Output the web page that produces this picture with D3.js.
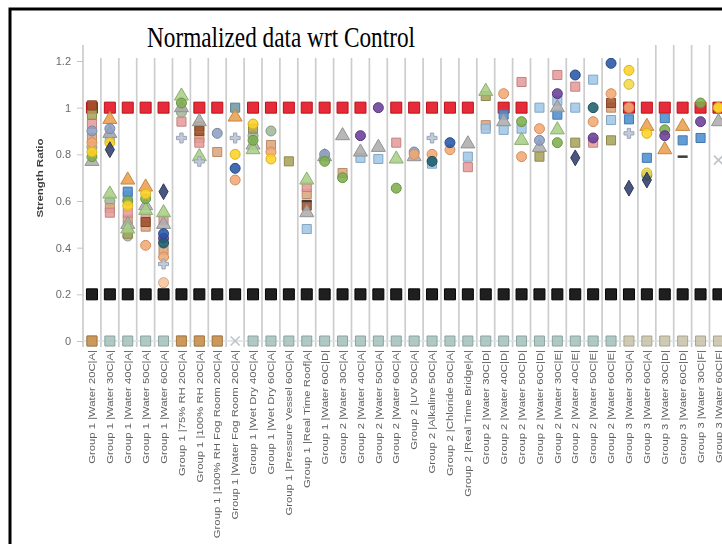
<!DOCTYPE html>
<html>
<head>
<meta charset="utf-8">
<script src="https://cdn.jsdelivr.net/npm/d3@7"></script>
<style>
  body { margin: 0; background: #fff; }
  svg { display: block; }
  .tick text { font-family: "Liberation Sans", Arial, sans-serif; fill: #6a6a6a; }
</style>
</head>
<body>
<div id="chart"></div>
<script>
// Strength ratio scatter, normalized to control //
const width = 722;
const height = 544;
const _ = null;

const categories = [
  "Group 1 |Water 20C|A|", "Group 1 |Water 30C|A|", "Group 1 |Water 40C|A|", "Group 1 |Water 50C|A|",
  "Group 1 |Water 60C|A|", "Group 1 |75% RH 20C|A|", "Group 1 |100% RH 20C|A|", "Group 1 |100% RH Fog Room 20C|A|",
  "Group 1 |Water Fog Room 20C|A|", "Group 1 |Wet Dry 40C|A|", "Group 1 |Wet Dry 60C|A|", "Group 1 |Pressure Vessel 60C|A|",
  "Group 1 |Real Time Roof|A|", "Group 1 |Water 60C|D|", "Group 2 |Water 30C|A|", "Group 2 |Water 40C|A|",
  "Group 2 |Water 50C|A|", "Group 2 |Water 60C|A|", "Group 2 |UV 50C|A|", "Group 2 |Alkaline 50C|A|",
  "Group 2 |Chloride 50C|A|", "Group 2 |Real Time Bridge|A|", "Group 2 |Water 30C|D|", "Group 2 |Water 40C|D|",
  "Group 2 |Water 50C|D|", "Group 2 |Water 60C|D|", "Group 2 |Water 30C|E|", "Group 2 |Water 40C|E|",
  "Group 2 |Water 50C|E|", "Group 2 |Water 60C|E|", "Group 3 |Water 30C|A|", "Group 3 |Water 60C|A|",
  "Group 3 |Water 30C|D|", "Group 3 |Water 60C|D|", "Group 3 |Water 30C|F|", "Group 3 |Water 60C|F|"
];

const yTicks = [0, 0.2, 0.4, 0.6, 0.8, 1, 1.2];

// reference lines drawn as markers
const control = [1,1,1,1,1,_, 1,1,_,1,1,1, 1,1,1,1,_,1, 1,1,1,1,_,1, 1,_,_,_,_,_, 1,1,1,1,1,1];
const limit = [0.2,0.2,0.2,0.2,0.2,0.2, 0.2,0.2,0.2,0.2,0.2,0.2, 0.2,0.2,0.2,0.2,0.2,0.2,
               0.2,0.2,0.2,0.2,0.2,0.2, 0.2,0.2,0.2,0.2,0.2,0.2, 0.2,0.2,0.2,0.2,0.2,0.2];
const zeroRow = [0,0,0,0,0,0, 0,0,_,0,0,0, 0,0,0,0,0,0, 0,0,0,0,0,0, 0,0,0,0,0,0, _,_,_,_,_,_];
const zeroRowOrange = [0,_,_,_,_,0, 0,0,_,_,_,_, _,_,_,_,_,_, _,_,_,_,_,_, _,_,_,_,_,_, _,_,_,_,_,_];
const zeroRowGroup3 = [_,_,_,_,_,_, _,_,_,_,_,_, _,_,_,_,_,_, _,_,_,_,_,_, _,_,_,_,_,_, 0,0,0,0,0,0];

// specimen series (one value per category, null = none)
const s01 = [_,_,_,_,0.46,_, _,_,0.74,_,_,_, _,_,_,_,_,_, _,_,0.85,_,_,_, _,_,_,1.14,_,1.19, _,_,_,_,_,_];
const s02 = [0.85,_,_,0.41,0.36,_, _,_,0.69,_,0.81,_, _,_,_,_,_,_, 0.80,0.80,0.82,_,_,1.06, 0.79,0.91,_,_,0.94,1.06, 1.0,_,_,_,_,1.0];
const s03 = [0.77,0.89,0.50,0.58,0.50,1.0, 0.94,_,_,0.84,_,_, 0.55,0.79,0.88,0.81,0.83,_, 0.79,_,_,0.845,_,0.94, _,0.83,1.0,_,_,_, _,_,_,_,_,0.94];
const s04 = [0.81,0.85,0.58,0.63,_,_, _,_,0.80,0.93,0.78,_, _,_,_,_,_,_, _,_,_,_,_,_, _,_,_,_,_,_, 1.16,0.89,_,_,_,1.0];
const s05 = [_,0.87,0.62,_,_,_, _,_,_,_,_,_, 0.48,_,_,0.785,0.78,_, _,0.76,_,0.79,0.91,0.905, 0.91,1.0,1.03,1.0,1.12,0.947, _,_,_,_,_,_];
const s06 = [0.79,_,0.60,0.61,_,1.02, _,_,_,0.86,_,_, _,0.77,0.70,_,_,0.655, _,_,_,_,_,_, 0.94,_,0.85,_,_,_, _,0.71,0.905,_,1.02,_];
const s07 = [_,0.82,_,_,0.64,_, _,_,_,_,_,_, _,_,_,_,_,_, _,_,_,_,_,_, _,_,_,0.785,_,_, 0.655,0.69,_,_,_,_];
const s08 = [0.93,0.55,0.55,0.53,0.52,0.94, 0.85,_,_,_,_,_, 0.66,_,_,_,_,0.85, _,_,_,0.745,_,_, 1.11,_,1.14,1.09,0.85,_, _,_,_,_,_,_];
const s09 = [_,_,_,_,0.44,_, _,_,_,_,_,_, _,_,_,0.88,1.0,_, _,_,_,_,_,_, _,_,1.06,_,0.87,_, _,_,0.88,_,0.94,_];
const s10 = [0.97,_,0.46,_,_,_, 0.92,_,_,0.91,_,0.77, _,_,_,_,_,_, _,_,_,_,1.05,_, _,0.79,_,0.85,_,0.86, _,_,_,_,_,_];
const s11 = [_,_,_,_,0.33,0.87, 0.77,_,0.87,_,_,_, _,_,_,_,_,_, _,0.87,_,_,_,_, _,_,_,_,_,_, 0.89,_,_,_,_,_];
const s12 = [_,_,_,_,0.42,_, _,_,_,_,_,_, _,_,_,_,_,_, _,0.77,_,_,_,_, _,_,_,_,1.0,_, _,_,_,_,_,_];
const s13 = [_,0.63,0.48,0.56,0.55,1.05, 0.79,_,_,0.82,_,_, 0.69,_,_,_,_,0.78, _,_,_,_,1.07,_, 0.86,_,0.905,_,_,_, _,_,_,_,_,_];
const s14 = [_,0.95,0.69,0.66,_,_, _,_,0.96,_,_,_, _,_,_,_,_,_, _,_,_,_,_,_, _,_,_,_,_,_, _,0.92,0.82,0.92,_,_];
const s15 = [0.90,0.91,_,_,_,_, _,0.89,_,_,_,_, _,0.80,_,_,_,_, 0.81,_,_,_,_,_, _,0.86,_,_,_,_, _,_,_,_,_,_];
const s16 = [0.87,0.57,0.52,0.49,0.39,_, 0.87,0.81,_,_,0.84,_, 0.63,_,0.72,_,_,_, _,_,_,_,0.925,_, _,_,_,_,_,1.0, _,_,_,_,_,_];
const s17 = [_,_,_,_,_,_, _,_,_,_,_,_, 0.60,_,_,_,_,_, _,_,_,_,_,_, _,_,_,_,_,_, _,_,_,0.79,_,_];
const s18 = [1.01,_,_,0.51,_,_, 0.90,_,_,_,_,_, 0.58,_,_,_,_,_, _,_,_,_,_,_, _,_,_,_,_,1.02, _,_,_,_,_,_];
const s19 = [0.83,0.60,0.45,_,_,0.98, _,_,_,0.88,0.90,_, _,_,_,_,_,_, _,_,_,_,_,_, _,_,_,_,_,_, _,_,_,_,_,_];
const s20 = [_,_,0.64,_,_,_, _,_,_,_,_,_, _,_,_,_,_,_, _,_,_,_,_,0.97, _,_,0.97,_,_,_, 0.95,0.785,0.955,0.86,0.87,_];
const s21 = [_,_,_,_,0.25,_, _,_,_,_,_,_, _,_,_,_,_,_, _,_,_,_,_,_, _,_,_,_,_,_, _,_,_,_,_,_];
const s22 = [_,_,_,_,_,_, _,_,1.0,_,_,_, _,_,_,_,_,_, _,_,_,_,_,_, _,_,_,_,_,_, _,_,_,_,_,_];
const s23 = [_,_,_,_,_,_, _,_,_,_,_,_, _,_,_,_,_,_, _,_,_,_,_,_, _,_,_,_,_,_, 1.10,0.72,_,_,_,_];
const s24 = [_,_,_,_,_,_, _,_,0,_,_,_, _,_,_,_,_,_, _,_,_,_,_,_, _,_,_,_,_,_, _,_,_,_,_,0.775];

// marker look for each series (Excel style)
const seriesList = [
  { values: zeroRow, shape: "square", color: "#a6c2bd", size: 100 },
  { values: zeroRowOrange, shape: "square", color: "#cf9350", size: 100 },
  { values: zeroRowGroup3, shape: "square", color: "#c9c3ab", size: 100 },
  { values: limit, shape: "square", color: "#000000", size: 121 },
  { values: control, shape: "square", color: "#e2101c", size: 121 },
  { values: s19, shape: "circle", color: "#a2b89c" },
  { values: s16, shape: "square", color: "#dca67e" },
  { values: s08, shape: "square", color: "#e79b9b" },
  { values: s05, shape: "square", color: "#9fc7e8" },
  { values: s10, shape: "square", color: "#a9a45c" },
  { values: s18, shape: "square", color: "#a0522d" },
  { values: s20, shape: "square", color: "#4f8fcf" },
  { values: s22, shape: "square", color: "#6f9aa6" },
  { values: s03, shape: "triangle", color: "#adadad" },
  { values: s13, shape: "triangle", color: "#a8cf88" },
  { values: s14, shape: "triangle", color: "#e9a04e" },
  { values: s15, shape: "circle", color: "#8e9fc2" },
  { values: s02, shape: "circle", color: "#f4a872" },
  { values: s06, shape: "circle", color: "#7fae4f" },
  { values: s04, shape: "circle", color: "#ffd323" },
  { values: s23, shape: "circle", color: "#f2d84a" },
  { values: s21, shape: "circle", color: "#f7c49c" },
  { values: s09, shape: "circle", color: "#6a3f98" },
  { values: s12, shape: "circle", color: "#1f5e6c" },
  { values: s01, shape: "circle", color: "#2856a5" },
  { values: s07, shape: "diamond", color: "#33406c" },
  { values: s11, shape: "plus", color: "#b9c4d6" },
  { values: s24, shape: "times", color: "#bfc3c8" },
  { values: s17, shape: "dash", color: "#3c3c3c" }
];

const svg = d3.select("#chart")
  .append("svg")
  .attr("width", width)
  .attr("height", height);

// soft edges, like the scanned original
svg.append("defs")
  .append("filter")
  .attr("id", "soft")
  .append("feGaussianBlur")
  .attr("stdDeviation", 0.55);

const x = d3.scaleBand()
  .domain(categories)
  .range([83, 83 + 17.9 * categories.length])
  .padding(0);

const y = d3.scaleLinear()
  .domain([0, 1.2])
  .range([341, 61]);

// vertical category gridlines
const gridX = categories.map(c => x(c)).concat([x(categories[categories.length - 1]) + x.bandwidth()]);
svg.append("g")
  .selectAll("line")
  .data(gridX)
  .enter()
  .append("line")
  .attr("x1", d => d)
  .attr("x2", d => d)
  .attr("y1", 45)
  .attr("y2", 347)
  .attr("stroke", "#cdcdcd")
  .attr("stroke-width", 1.7);

// faint line along zero
svg.append("line")
  .attr("x1", x.range()[0])
  .attr("x2", x.range()[1])
  .attr("y1", y(0))
  .attr("y2", y(0))
  .attr("stroke", "#d3e6ea")
  .attr("stroke-width", 1.5);

// y axis
const yAxis = svg.append("g")
  .attr("transform", "translate(83,0)")
  .attr("filter", "url(#soft)")
  .call(d3.axisLeft(y).tickValues(yTicks).tickSize(6).tickPadding(6)
    .tickFormat(d => String(+d.toFixed(1))));
yAxis.select(".domain").remove();
yAxis.selectAll(".tick line").attr("stroke", "#c4c4c4");
yAxis.selectAll(".tick text").style("font-size", "11px");

// y title
svg.append("text")
  .attr("transform", "translate(40,178) scale(0.8,1) rotate(-90)")
  .attr("text-anchor", "middle")
  .attr("dy", "0.35em")
  .attr("filter", "url(#soft)")
  .style("font-family", "'Liberation Sans', Arial, sans-serif")
  .style("font-weight", "bold")
  .style("font-size", "11.5px")
  .attr("fill", "#404040")
  .text("Strength Ratio");

// category labels
svg.append("g")
  .attr("filter", "url(#soft)")
  .selectAll("text")
  .data(categories)
  .enter()
  .append("text")
  .attr("transform", d => `translate(${x(d) + x.bandwidth() / 2},350) scale(0.8,1) rotate(-90)`)
  .attr("text-anchor", "end")
  .attr("dy", "0.35em")
  .style("font-family", "'Liberation Sans', Arial, sans-serif")
  .style("font-size", "11.3px")
  .attr("fill", "#5f5f5f")
  .text(d => d);

// markers
const symbolType = {
  circle: d3.symbolCircle,
  square: d3.symbolSquare,
  triangle: d3.symbolTriangle,
  diamond: d3.symbolDiamond,
  plus: d3.symbolCross,
  times: d3.symbolTimes
};
const defaultSize = { circle: 78, square: 82, triangle: 85, diamond: 72, plus: 55, times: 55 };

const markLayer = svg.append("g").attr("filter", "url(#soft)");

seriesList.forEach(s => {
  const pts = s.values
    .map((v, i) => ({ v: v, c: categories[i] }))
    .filter(p => p.v !== null);
  const g = markLayer.append("g");
  const cx = p => x(p.c) + x.bandwidth() / 2;

  if (s.shape === "dash") {
    g.selectAll("line")
      .data(pts)
      .enter()
      .append("line")
      .attr("x1", p => cx(p) - 5)
      .attr("x2", p => cx(p) + 5)
      .attr("y1", p => y(p.v))
      .attr("y2", p => y(p.v))
      .attr("stroke", s.color)
      .attr("stroke-width", 2.5);
    return;
  }
  const stroked = s.shape === "times";
  const size = s.size || defaultSize[s.shape];
  g.selectAll("path")
    .data(pts)
    .enter()
    .append("path")
    .attr("transform", p => `translate(${cx(p)},${y(p.v)})`)
    .attr("d", d3.symbol().type(symbolType[s.shape]).size(size))
    .attr("fill", stroked ? "none" : s.color)
    .attr("fill-opacity", 0.88)
    .attr("stroke", stroked ? s.color : d3.color(s.color).darker(0.5))
    .attr("stroke-width", stroked ? 1.6 : 1);
});

// title box over the top of the plot
svg.append("rect")
  .attr("x", 85)
  .attr("y", 11)
  .attr("width", 563)
  .attr("height", 47)
  .attr("fill", "#fff");

svg.append("text")
  .attr("x", 147)
  .attr("y", 47)
  .attr("textLength", 268)
  .attr("lengthAdjust", "spacingAndGlyphs")
  .style("font-family", "'Liberation Serif', 'DejaVu Serif', serif")
  .style("font-size", "29px")
  .attr("fill", "#000")
  .text("Normalized data wrt Control");

// black frame (runs off the right and bottom)
svg.append("rect")
  .attr("x", 10)
  .attr("y", 9)
  .attr("width", 760)
  .attr("height", 600)
  .attr("fill", "none")
  .attr("stroke", "#000")
  .attr("stroke-width", 3);
</script>
</body>
</html>
